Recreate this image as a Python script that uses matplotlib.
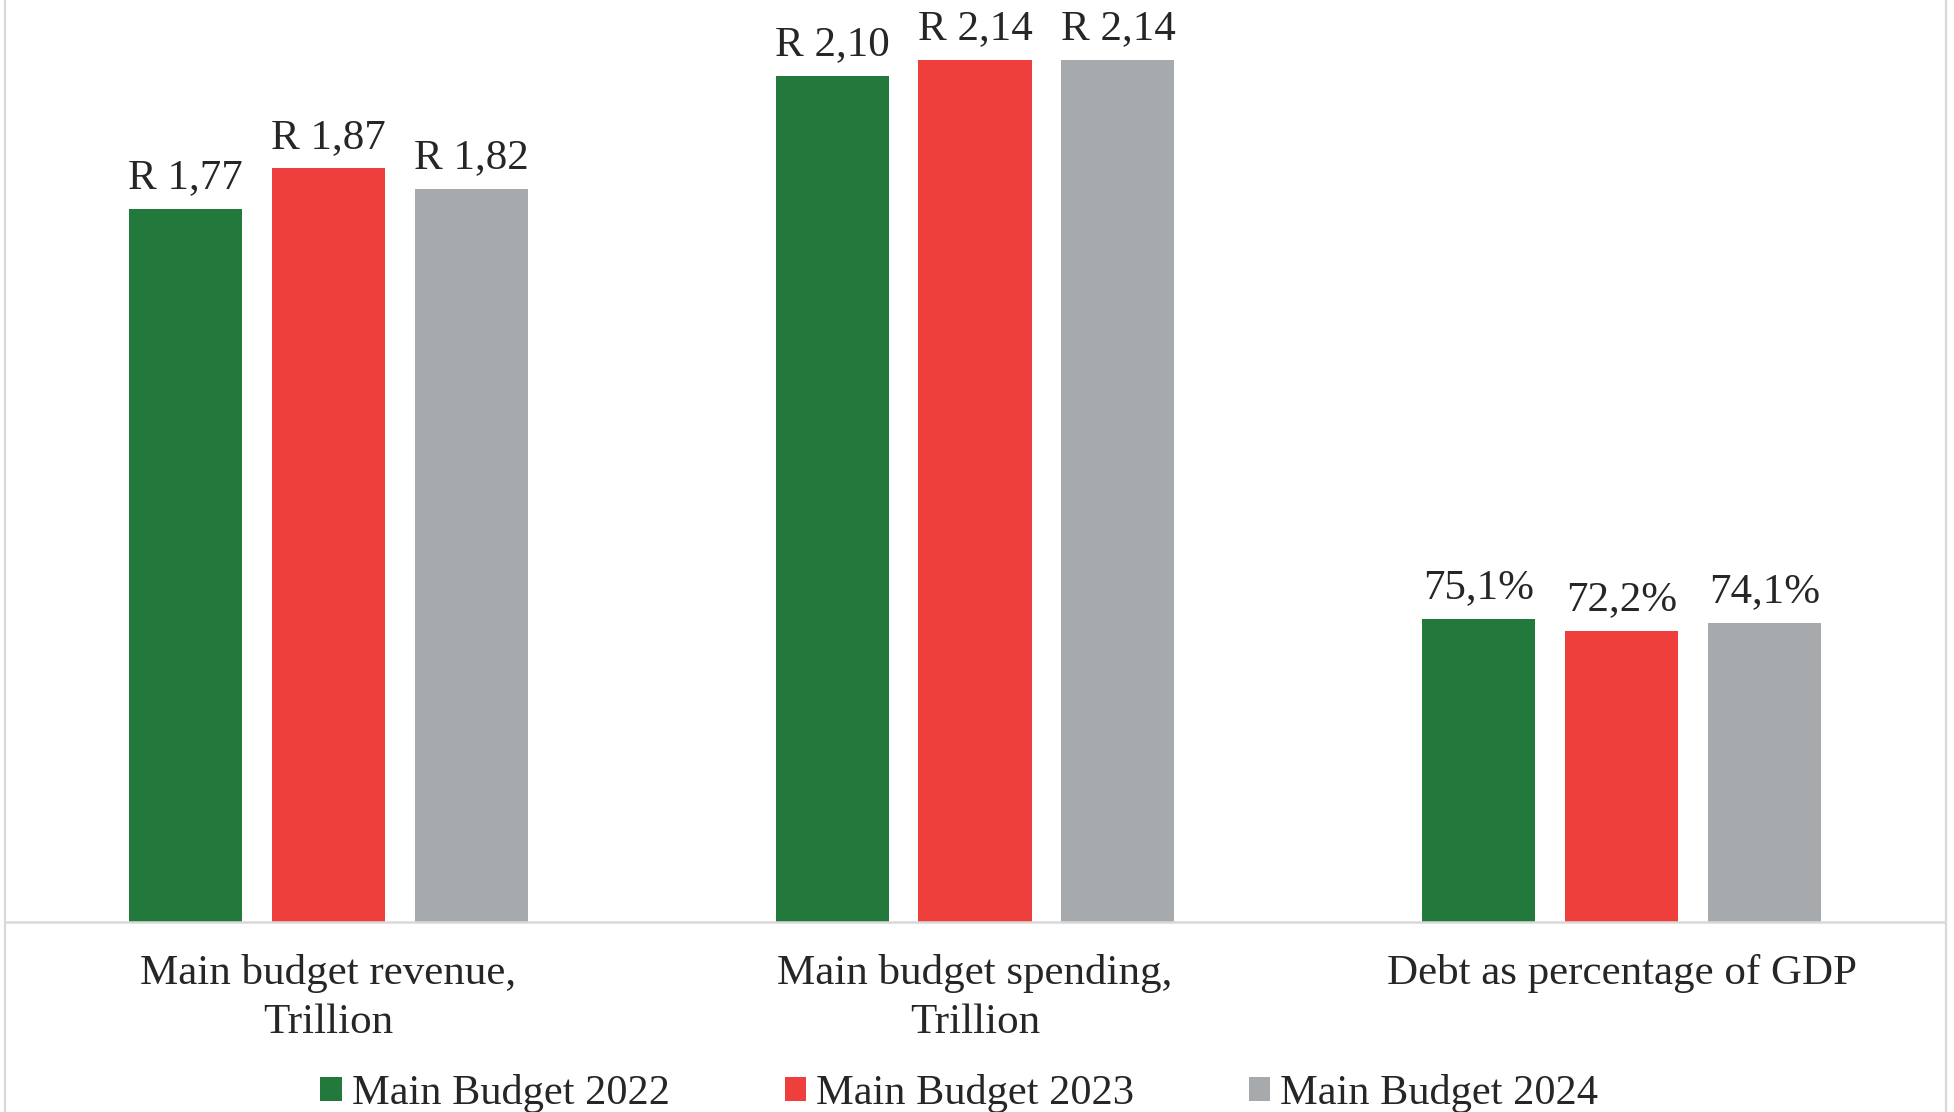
import matplotlib.pyplot as plt
from matplotlib.patches import Patch
from matplotlib.lines import Line2D
import numpy as np

plt.rcParams["font.family"] = ["Liberation Serif", "DejaVu Serif"]

categories = ["Main budget revenue,\nTrillion", "Main budget spending,\nTrillion", "Debt as percentage of GDP"]
series_names = ["Main Budget 2022", "Main Budget 2023", "Main Budget 2024"]
budget_2022 = [1.77, 2.10, 0.751]
budget_2023 = [1.87, 2.14, 0.722]
budget_2024 = [1.82, 2.14, 0.741]
is_percent = [False, False, True]

colors = ["#23793B", "#EE3F3C", "#A6AAAC"]
text_color = "#262626"
grid_gray = "#D9D9D9"


def fmt(v, pct):
    if pct:
        return f"{v * 100:.1f}%".replace(".", ",")
    return f"R {v:.2f}".replace(".", ",")


fig = plt.figure(figsize=(19.54, 11.12), dpi=100)
ax = fig.add_axes([5 / 1954, 190.3 / 1112, 1940 / 1954, 921.7 / 1112])

x = np.arange(len(categories))
width = 0.175
pitch = 0.221

for i, vals in enumerate([budget_2022, budget_2023, budget_2024]):
    pos = x + (i - 1) * pitch
    bars = ax.bar(pos, vals, width, color=colors[i], label=series_names[i])
    for b, v, p in zip(bars, vals, is_percent):
        ax.annotate(fmt(v, p), (b.get_x() + b.get_width() / 2, v),
                    xytext=(0, 15), textcoords="offset points",
                    ha="center", va="baseline", fontsize=31, color=text_color)

ax.set_xlim(-0.5, 2.5)
ax.set_ylim(0, 921.7 / 402.8)
ax.set_yticks([])
ax.set_xticks(x)
ax.set_xticklabels(categories, fontsize=31, color=text_color, linespacing=1.38)
ax.tick_params(axis="x", length=0, pad=23)
for s in ["top", "left", "right"]:
    ax.spines[s].set_visible(False)
ax.spines["bottom"].set_color(grid_gray)
ax.spines["bottom"].set_linewidth(1.8)

# chart outline on both sides
for xf in [4.5 / 1954, 1945.5 / 1954]:
    fig.add_artist(Line2D([xf, xf], [0, 1], transform=fig.transFigure,
                          color=grid_gray, lw=1.6))

handles = [Patch(facecolor=c) for c in colors]
fig.legend(handles, series_names, loc="center", bbox_to_anchor=(0.491, 0.0165),
           ncol=3, frameon=False, fontsize=30.5, labelcolor=text_color,
           handlelength=0.5, handleheight=0.5, handletextpad=0.25,
           columnspacing=2.7)

fig.savefig("out.png", dpi=100)
